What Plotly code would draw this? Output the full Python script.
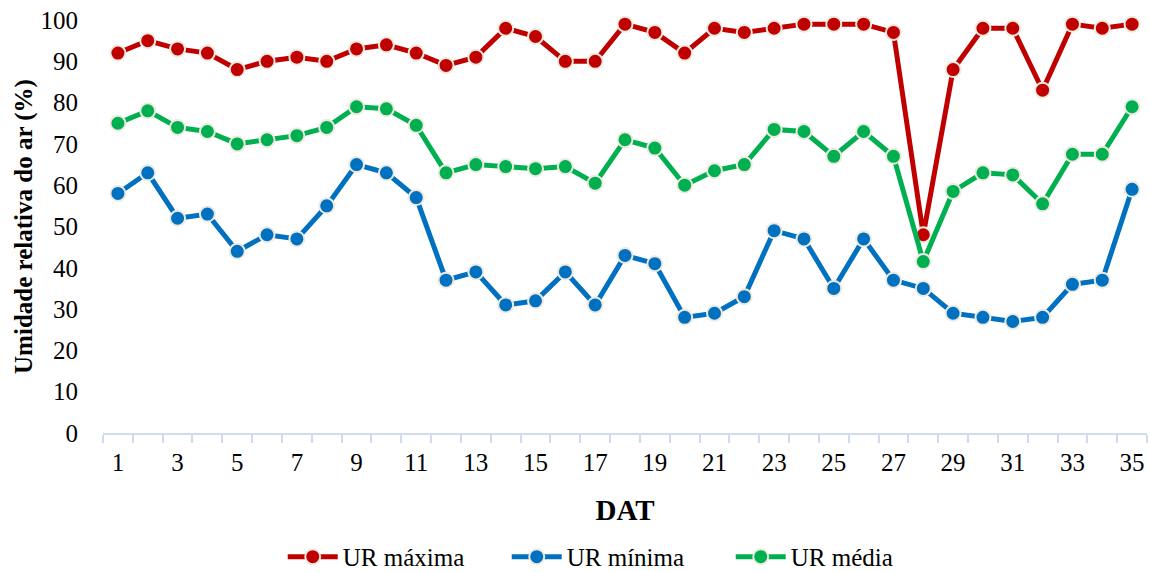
import plotly.graph_objects as go

dat = list(range(1, 36))
ur_max = [92, 95, 93, 92, 88, 90, 91, 90, 93, 94, 92, 89, 91, 98, 96, 90, 90, 99, 97, 92,
          98, 97, 98, 99, 99, 99, 97, 48, 88, 98, 98, 83, 99, 98, 99]
ur_min = [58, 63, 52, 53, 44, 48, 47, 55, 65, 63, 57, 37, 39, 31, 32, 39, 31, 43, 41, 28,
          29, 33, 49, 47, 35, 47, 37, 35, 29, 28, 27, 28, 36, 37, 59]
ur_med = [75, 78, 74, 73, 70, 71, 72, 74, 79, 78.5, 74.5, 63, 65, 64.5, 64, 64.5, 60.5, 71, 69, 60,
          63.5, 65, 73.5, 73, 67, 73, 67, 41.5, 58.5, 63, 62.5, 55.5, 67.5, 67.5, 79]
xtick_vals = list(range(1, 36, 2))
ytick_vals = list(range(0, 101, 10))

series = [
    ("UR máxima", ur_max, "#C00000"),
    ("UR mínima", ur_min, "#0070C0"),
    ("UR média", ur_med, "#00B050"),
]

FONT = "Liberation Serif, Times New Roman, serif"
fig = go.Figure()
for name, vals, col in series:
    fig.add_trace(go.Scatter(
        x=dat, y=vals, name=name, mode="lines+markers",
        line=dict(color=col, width=5),
        marker=dict(size=15, color=col, line=dict(color="#EEEAE0", width=2)),
        cliponaxis=False,
    ))

fig.update_layout(
    width=1150, height=572,
    margin=dict(l=103, r=3, t=20, b=139, autoexpand=False),
    paper_bgcolor="white", plot_bgcolor="white",
    font=dict(family=FONT, size=25, color="black"),
    showlegend=True,
    legend=dict(orientation="h", x=0.494, xanchor="center", y=-0.30, yanchor="middle",
                font=dict(family=FONT, size=25), itemwidth=50, traceorder="normal",
                entrywidth=159, entrywidthmode="pixels"),
    xaxis=dict(
        range=[0.5, 35.5], tickmode="array", tickvals=xtick_vals, automargin=False,
        ticktext=[str(v) for v in xtick_vals], ticks="", showgrid=False, zeroline=False,
        showline=True, linecolor="#D0DCEE", linewidth=2,
        ticklabelstandoff=6, tickfont=dict(size=25),
        minor=dict(tickmode="linear", tick0=0.5, dtick=1, ticks="outside", ticklen=8,
                   tickcolor="#D0DCEE", tickwidth=2, showgrid=False),
        title=dict(text="<b>DAT</b>", font=dict(family=FONT, size=29), standoff=25),
    ),
    yaxis=dict(
        range=[0, 100], tickmode="array", tickvals=ytick_vals, ticks="", automargin=False,
        showgrid=False, zeroline=False, showline=False, ticklabelstandoff=24,
        tickfont=dict(size=25),
        title=dict(text="<b>Umidade relativa do ar (%)</b>", font=dict(family=FONT, size=25),
                   standoff=0),
    ),
)

fig.write_html("out.html", config={"displayModeBar": False},
               post_script="document.body.style.margin='0';")
